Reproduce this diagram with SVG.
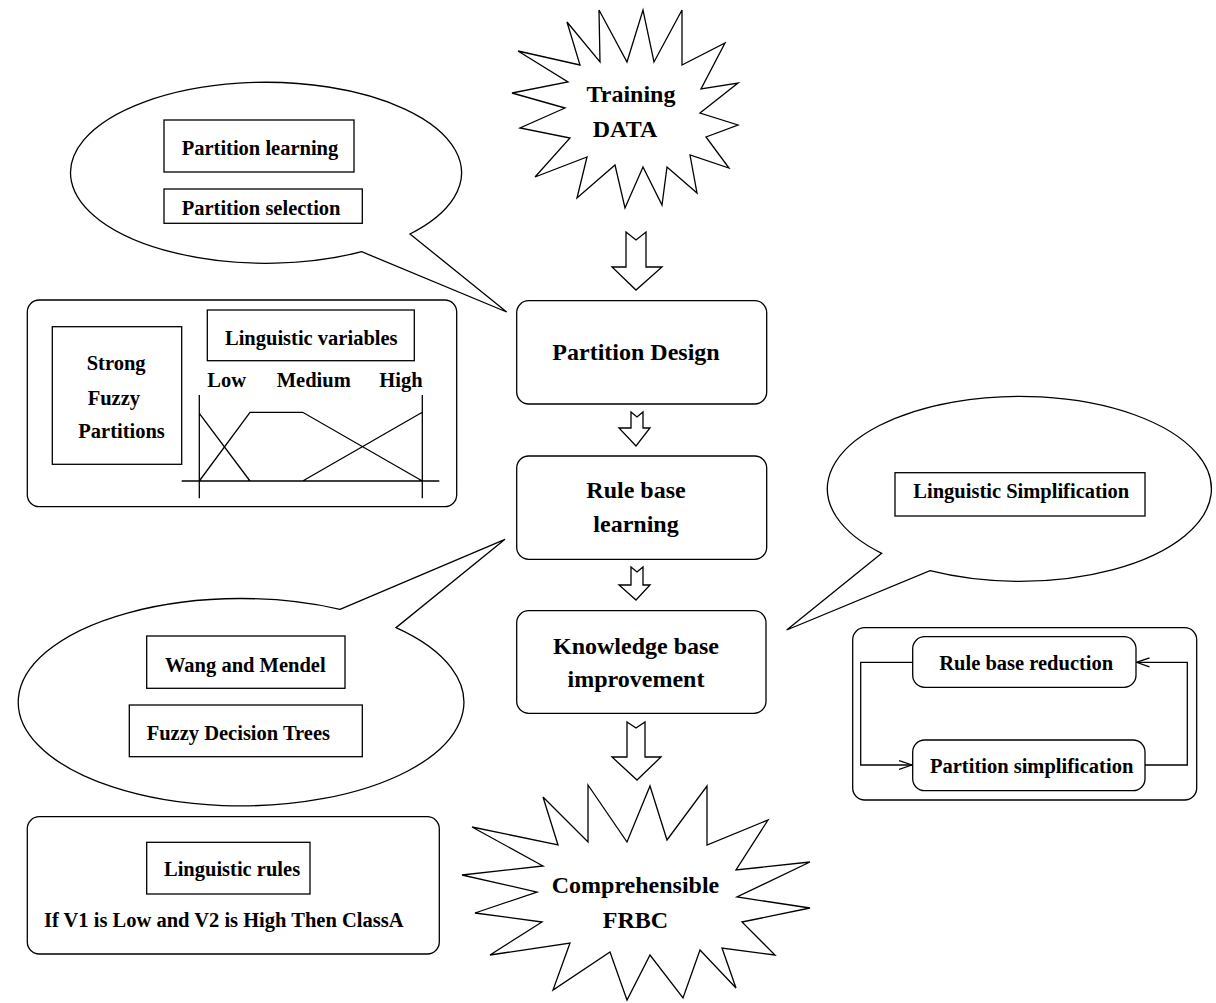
<svg xmlns="http://www.w3.org/2000/svg" width="1216" height="1003" viewBox="0 0 1216 1003">
<defs>
<style>
.s{fill:#fff;stroke:#000;stroke-width:1.3}
.n{fill:none;stroke:#000;stroke-width:1.3}
text{font-family:"Liberation Serif","Times New Roman",serif;font-weight:bold;fill:#000}
.big{font-size:24px}
.sm{font-size:20.5px}
.c{text-anchor:middle}
</style>
<marker id="open" markerWidth="14" markerHeight="12" refX="13" refY="6" orient="auto" markerUnits="userSpaceOnUse">
<path d="M0,1.5 L13,6 L0,10.5" fill="none" stroke="#000" stroke-width="1.3"/>
</marker>
</defs>
<rect width="1216" height="1003" fill="#fff"/>

<g id="training-data">
<polygon class="s" points="599,10 627,62 643,10 654,62 682,10 682,65 725,43 701,89 738,83 700,113 738,125 706,137 729,168 690,155 697,193 667,167 662,205 643,167 625,208 615,165 577,198 587,157 535,177 570,138 520,128 565,108 512,93 568,82 518,51 580,65 567,22 600,62"/>
<text class="big c" x="631" y="102">Training</text>
<text class="big c" x="625" y="137">DATA</text>
</g>

<g id="bubble-partition">
<path class="s" d="M410,234 L506.7,312 L361.7,251.7 A195.5,90.5 0 1 1 410,234 Z"/>
<rect class="s" x="164" y="120" width="190" height="52"/>
<text class="sm" x="181.7" y="155">Partition learning</text>
<rect class="s" x="164" y="189" width="198.3" height="34.3"/>
<text class="sm" x="181.7" y="215">Partition selection</text>
</g>

<g id="box-linguistic-variables">
<rect class="s" x="27.3" y="300" width="429.4" height="206.7" rx="12"/>
<rect class="s" x="52.3" y="326.7" width="129.4" height="137.6"/>
<text class="sm" x="86.7" y="370">Strong</text>
<text class="sm" x="87.7" y="405">Fuzzy</text>
<text class="sm" x="78.3" y="438.3">Partitions</text>
<rect class="s" x="207.3" y="310" width="207" height="50.7"/>
<text class="sm" x="225" y="345">Linguistic variables</text>
<text class="sm" x="207.3" y="386.7">Low</text>
<text class="sm" x="276.7" y="386.7">Medium</text>
<text class="sm" x="379.3" y="386.7">High</text>
<path class="n" d="M199.3,395 V498.3 M422.3,395 V498.3 M181.7,481 H439.3 M199.3,413.3 L250,481 M199.3,481 L250,412.3 H302.7 L422.3,481 M302.7,481 L422.3,412.3"/>
</g>

<g id="partition-design">
<rect class="s" x="516.7" y="300.7" width="250" height="103.3" rx="12"/>
<text class="big c" x="636" y="360">Partition Design</text>
</g>

<g id="rule-base-learning">
<rect class="s" x="516.7" y="456" width="250" height="103.3" rx="12"/>
<text class="big c" x="636" y="498">Rule base</text>
<text class="big c" x="636" y="532">learning</text>
</g>

<g id="knowledge-base-improvement">
<rect class="s" x="516.7" y="610.7" width="249.3" height="102.6" rx="12"/>
<text class="big c" x="636" y="654">Knowledge base</text>
<text class="big c" x="636" y="687">improvement</text>
</g>

<g id="bubble-linguistic-simplification">
<path class="s" d="M881.7,553.3 L786.7,630 L930,570.7 A192,92.5 0 1 0 881.7,553.3 Z"/>
<rect class="s" x="895" y="472.7" width="250" height="43.3"/>
<text class="sm" x="913.3" y="498.3">Linguistic Simplification</text>
</g>

<g id="box-reduction">
<rect class="s" x="852.7" y="627.7" width="344" height="172.3" rx="12"/>
</g>
<g id="rule-base-reduction">
<rect class="s" x="912.7" y="636.7" width="223.3" height="50.6" rx="12"/>
<text class="sm" x="939.3" y="670">Rule base reduction</text>
</g>
<g id="partition-simplification">
<rect class="s" x="912.7" y="740" width="232.3" height="50.7" rx="12"/>
<text class="sm" x="930" y="773.3">Partition simplification</text>
</g>

<g id="bubble-rule-learning">
<path class="s" d="M340,609.3 L505,539.3 L396,627.7 A222.8,103.7 0 1 1 340,609.3 Z"/>
<rect class="s" x="146.7" y="636" width="198.3" height="52.3"/>
<text class="sm" x="165" y="671.7">Wang and Mendel</text>
<rect class="s" x="129.3" y="705" width="233" height="51.7"/>
<text class="sm" x="146.7" y="740">Fuzzy Decision Trees</text>
</g>

<g id="box-linguistic-rules">
<rect class="s" x="27.3" y="816.7" width="412" height="137.3" rx="12"/>
<rect class="s" x="146.7" y="842.3" width="163.3" height="51.7"/>
<text class="sm" x="164" y="876">Linguistic rules</text>
<text class="sm" x="44" y="927.3">If V1 is Low and V2 is High Then ClassA</text>
</g>

<g id="comprehensible-frbc">
<polygon class="s" points="588,785 627,842 650,786 667,840 707,786 707,845 768,820 736,870 810,862 737,897 810,908 742,922 775,955 722,948 736,988 700,950 683,998 650,955 627,1000 610,952 553,990 570,943 490,955 542,922 475,913 537,892 462,875 543,866 472,827 558,845 543,797 588,842"/>
<text class="big c" x="635.5" y="893.3">Comprehensible</text>
<text class="big c" x="635.5" y="928.3">FRBC</text>
</g>

<g id="connectors">
<path class="s" d="M626,232 L636,240 L646,232 L646,267 L662,267 L636,290 L612,267 L626,267 Z"/>
<path class="s" d="M631,412 L637,417 L643,412 L643,428 L650,428 L636,446 L619,428 L631,428 Z"/>
<path class="s" d="M631,567 L637,572 L643,567 L643,585 L650,585 L636,600 L619,585 L631,585 Z"/>
<path class="s" d="M627,722 L636,728 L645,722 L645,757 L661,757 L637,780 L612,757 L627,757 Z"/>
<path class="n" d="M912.7,662.3 H860.7 V765 H912" marker-end="url(#open)"/>
<path class="n" d="M1145,765 H1187.3 V662.3 H1136.5" marker-end="url(#open)"/>
</g>
</svg>
